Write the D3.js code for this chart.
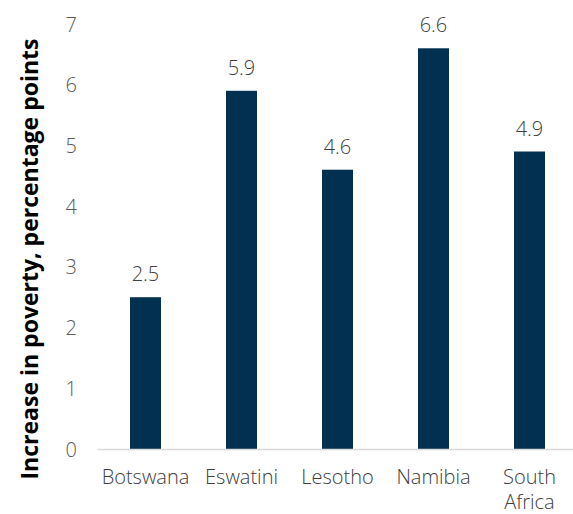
<!DOCTYPE html>
<html>
<head>
<meta charset="utf-8">
<script src="https://cdn.jsdelivr.net/npm/d3@7"></script>
<style>
  body { margin: 0; background: #fff; }
  text { font-family: "Open Sans", sans-serif; }
</style>
</head>
<body>
<script>
// chart data
var countries = ["Botswana", "Eswatini", "Lesotho", "Namibia", "South Africa"];
var increase = [2.5, 5.9, 4.6, 6.6, 4.9];
var yTicks = [0, 1, 2, 3, 4, 5, 6, 7];

var width = 573, height = 514;
var plot = { left: 97.5, right: 577.5, top: 24, bottom: 449 };

var svg = d3.select("body").append("svg")
  .attr("width", width)
  .attr("height", height);

var x = d3.scaleBand()
  .domain(countries)
  .range([plot.left, plot.right])
  .paddingInner(0.677)
  .paddingOuter(0.3385);

var y = d3.scaleLinear()
  .domain([0, 7])
  .range([plot.bottom, plot.top]);

// y tick labels (no axis line)
var yAxis = d3.axisLeft(y).tickValues(yTicks).tickFormat(d3.format("d"))
  .tickSize(0).tickPadding(0);
var gy = svg.append("g")
  .attr("transform", "translate(77,0)")
  .call(yAxis);
gy.select(".domain").remove();
gy.selectAll("text")
  .attr("fill", "#595959")
  .style("font-size", "20px")
  .style("font-weight", 300)
  .attr("dy", "0.35em");

// bars
svg.selectAll(".bar")
  .data(countries)
  .enter()
  .append("rect")
    .attr("class", "bar")
    .attr("x", function(d) { return x(d); })
    .attr("width", x.bandwidth())
    .attr("y", function(d, i) { return y(increase[i]); })
    .attr("height", function(d, i) { return y(0) - y(increase[i]); })
    .attr("fill", "#023050");

// value labels
svg.selectAll(".val")
  .data(countries)
  .enter()
  .append("text")
    .attr("class", "val")
    .attr("x", function(d) { return x(d) + x.bandwidth() / 2; })
    .attr("y", function(d, i) { return y(increase[i]) - 16; })
    .attr("text-anchor", "middle")
    .attr("fill", "#404040")
    .style("font-size", "20px")
    .style("font-weight", 300)
    .text(function(d, i) { return increase[i].toFixed(1); });

// x axis line
svg.append("line")
  .attr("x1", plot.left)
  .attr("x2", width)
  .attr("y1", y(0) + 0.5)
  .attr("y2", y(0) + 0.5)
  .attr("stroke", "#d9d9d9")
  .attr("stroke-width", 1.5);

// category labels, wrapped where needed
var xl = svg.selectAll(".cat")
  .data(countries)
  .enter()
  .append("text")
    .attr("class", "cat")
    .attr("text-anchor", "middle")
    .attr("fill", "#404040")
    .style("font-size", "20px")
    .style("font-weight", 300);
xl.each(function(d) {
  var words = d === "South Africa" ? ["South", "Africa"] : [d];
  var t = d3.select(this);
  words.forEach(function(w, j) {
    t.append("tspan")
      .attr("x", x(d) + x.bandwidth() / 2)
      .attr("y", 484 + j * 25)
      .text(w);
  });
});

// y axis title
svg.append("text")
  .attr("transform", "translate(38,259) rotate(-90)")
  .attr("text-anchor", "middle")
  .attr("fill", "#000")
  .style("font-size", "23px")
  .style("font-weight", 700)
  .text("Increase in poverty, percentage points");
</script>
</body>
</html>
